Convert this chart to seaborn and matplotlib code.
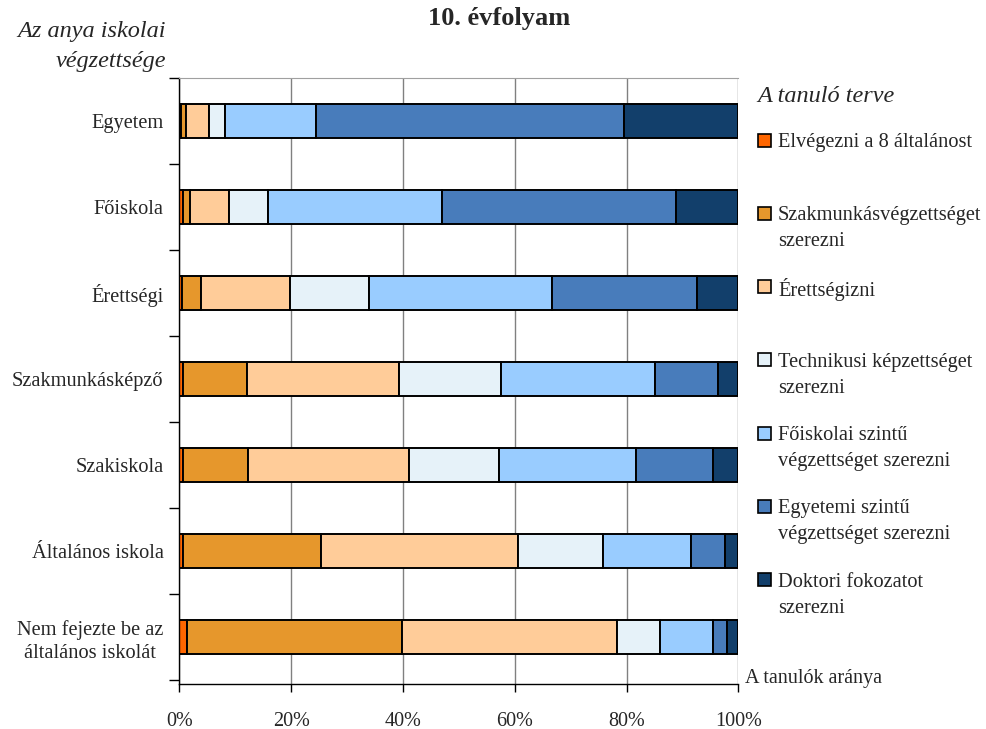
import numpy as np
import pandas as pd
import seaborn as sns
import matplotlib.pyplot as plt
from matplotlib.patches import Rectangle
from matplotlib.ticker import PercentFormatter


# data (% of students)
categories = ["Egyetem", "Főiskola", "Érettségi", "Szakmunkásképző", "Szakiskola",
              "Általános iskola", "Nem fejezte be az\náltalános iskolát"]

plans = ["Elvégezni a 8 általánost",
         "Szakmunkásvégzettséget\nszerezni",
         "Érettségizni",
         "Technikusi képzettséget\nszerezni",
         "Főiskolai szintű\nvégzettséget szerezni",
         "Egyetemi szintű\nvégzettséget szerezni",
         "Doktori fokozatot\nszerezni"]

elvegezni = [0.3, 0.6, 0.4, 0.7, 0.7, 0.7, 1.3]
szakmunkas = [0.8, 1.2, 3.5, 11.4, 11.6, 24.6, 38.5]
erettsegi = [4.1, 7.1, 15.9, 27.1, 28.8, 35.2, 38.5]
technikusi = [3.0, 7.0, 14.1, 18.3, 16.1, 15.2, 7.7]
foiskolai = [16.3, 31.0, 32.8, 27.6, 24.4, 15.8, 9.4]
egyetemi = [55.0, 42.0, 25.8, 11.3, 13.8, 6.0, 2.5]
doktori = [20.5, 11.1, 7.5, 3.6, 4.6, 2.5, 2.1]

series = [elvegezni, szakmunkas, erettsegi, technikusi, foiskolai, egyetemi, doktori]
colors = ["#FF6600", "#E6972C", "#FFCC99", "#E6F2F9", "#99CCFF", "#487CBB", "#123F6B"]


sns.set_theme(style="ticks")
plt.rcParams["font.family"] = ["Liberation Serif", "DejaVu Serif"]
plt.rcParams["font.size"] = 14.7

fig = plt.figure(figsize=(9.87, 7.29), dpi=100)
W, H = 987, 729
ax = fig.add_axes([179.5 / W, 1 - 684 / H, 559 / W, 606 / H])

# stacked bars, one seaborn call per plan
left = np.zeros(len(categories))
for name, vals, col in zip(plans, series, colors):
    df = pd.DataFrame({"kategoria": categories, "arany": vals})
    sns.barplot(data=df, x="arany", y="kategoria", order=categories, orient="h",
                color=col, saturation=1, width=0.4, left=left, errorbar=None,
                edgecolor="black", linewidth=1.4, ax=ax)
    left = left + np.array(vals)

ax.set_xlim(0, 100)
ax.set_ylim(6.55, -0.5)
ax.set_xlabel("")
ax.set_ylabel("")

ax.set_xticks([0, 20, 40, 60, 80, 100])
ax.xaxis.set_major_formatter(PercentFormatter(decimals=0))
ax.tick_params(axis="x", length=6, width=1, pad=14, labelsize=14.5, color="black")
ax.set_yticks(np.arange(-0.5, 7, 1), minor=True)
ax.tick_params(axis="y", which="major", length=0, pad=11.5, labelsize=14.7)
ax.tick_params(axis="y", which="minor", length=7, width=1, color="black")
for lab in ax.get_yticklabels():
    lab.set_multialignment("center")
    lab.set_linespacing(1.3)

ax.grid(axis="x", color="#808080", linewidth=1)
ax.set_axisbelow(True)
ax.spines["right"].set_visible(False)
ax.spines["top"].set_color("#A0A0A0")
ax.spines["top"].set_linewidth(0.8)
for s in ["left", "bottom"]:
    ax.spines[s].set_color("black")
    ax.spines[s].set_linewidth(1)


def fx(px):
    return px / W


def fy(py):
    return 1 - py / H


fig.text(fx(499), fy(19), "10. évfolyam", ha="center", va="center",
         fontsize=19, fontweight="bold")
fig.text(fx(166), fy(31), "Az anya iskolai", ha="right", va="center",
         fontsize=17.5, style="italic")
fig.text(fx(166), fy(61), "végzettsége", ha="right", va="center",
         fontsize=17.5, style="italic")
fig.text(fx(757), fy(97), "A tanuló terve", ha="left", va="center",
         fontsize=17.5, style="italic")
fig.text(fx(745), fy(679), "A tanulók aránya", ha="left", va="center", fontsize=14.5)

# legend drawn by hand (Excel style, one entry every 73 px)
for i, (name, col) in enumerate(zip(plans, colors)):
    yc = 140 + i * 73.3
    fig.add_artist(Rectangle((fx(758), fy(yc + 6.5)), 13 / W, 13 / H,
                             transform=fig.transFigure, facecolor=col,
                             edgecolor="black", linewidth=1.2))
    for j, line in enumerate(name.split("\n")):
        fig.text(fx(778), fy(yc + j * 26), line, ha="left", va="center_baseline",
                 fontsize=14.7)

fig.savefig("out.png", dpi=100)
